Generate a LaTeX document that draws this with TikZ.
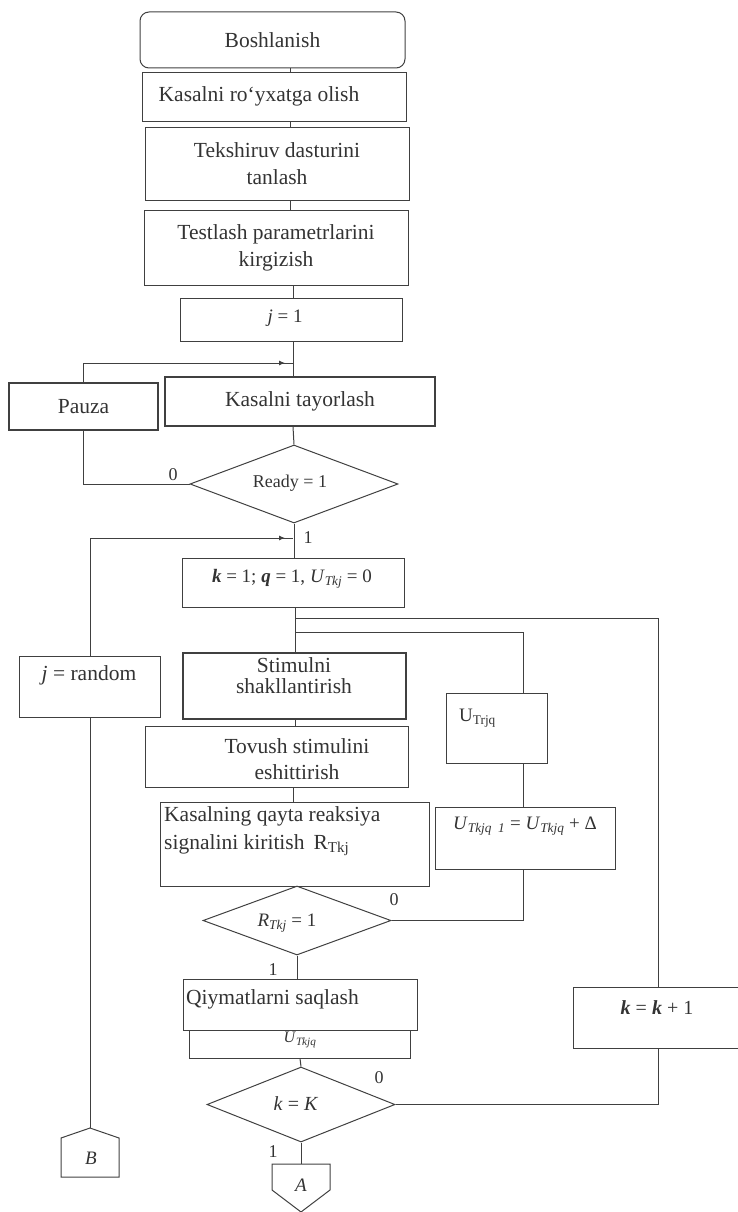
\documentclass[tikz,border=0pt]{standalone}
\usepackage{fontspec}
\setmainfont{Liberation Serif}
\usetikzlibrary{shapes.geometric,decorations.markings,arrows.meta,calc}
\begin{document}
\begin{tikzpicture}[x=1pt,y=-1pt,
  ink/.style={draw=black!75, line width=1pt},
  box/.style={ink, rectangle, inner sep=0pt, align=center, text=black!80,
    font=\fontsize{21.5}{27}\selectfont},
  dia/.style={ink, diamond, inner sep=0pt, text=black!80,
    font=\fontsize{19}{22}\selectfont},
  txt/.style={inner sep=0pt, text=black!80, font=\fontsize{21.5}{27}\selectfont},
  mtxt/.style={inner sep=0pt, text=black!80, font=\fontsize{19}{22}\selectfont},
  lbl/.style={inner sep=0pt, text=black!80, font=\fontsize{18}{20}\selectfont},
  arr/.style={postaction={decorate}, decoration={markings,
    mark=at position -8pt with {\arrow{Latex[length=6pt,width=5pt]}}}}
]
\useasboundingbox (0,0) rectangle (738,1212);

% ---------- main column ----------
\node[box, rounded corners=9pt, minimum width=265pt, minimum height=56pt] (start) at (272.5,40) {Boshlanish};
\node[box, minimum width=264pt, minimum height=49pt] (reg) at (274,97.5) {};
\node[txt] (regt) at (259,96) {Kasalni ro‘yxatga olish};
\node[box, minimum width=264pt, minimum height=72pt] (tek) at (277,164) {Tekshiruv dasturini\\tanlash};
\node[box, minimum width=264pt, minimum height=75pt] (test) at (276,247.5) {Testlash parametrlarini\\kirgizish};
\node[box, minimum width=222pt, minimum height=43pt] (j1) at (291,319.5) {};
\node[mtxt] (j1t) at (285,318) {\textit{j} = 1};
\node[box, line width=1.3pt, minimum width=149pt, minimum height=47pt] (pauza) at (83.5,406.5) {Pauza};
\node[box, line width=1.3pt, minimum width=270pt, minimum height=49pt] (tay) at (300,401.5) {Kasalni tayorlash};
\node[dia, minimum width=208pt, minimum height=78pt] (ready) at (294,484) {};
\node[mtxt, font=\fontsize{18}{20}\selectfont] (readyt) at (290,483) {Ready = 1};
\node[box, minimum width=222pt, minimum height=49pt] (kq) at (293,582.5) {};
\node[mtxt] (kqt) at (292,579) {\textbf{\textit{k}} = 1; \textbf{\textit{q}} = 1, \textit{U}\textsubscript{\textit{Tkj}} = 0};
\node[box, minimum width=141pt, minimum height=61pt] (jr) at (90,686.5) {};
\node[txt] (jrt) at (89,675) {\textit{j} = random};
\node[box, line width=1.8pt, minimum width=223pt, minimum height=66pt] (stim) at (294.5,686) {};
\node[txt, align=center, font=\fontsize{21.5}{21}\selectfont] (stimt) at (294,676) {Stimulni\\shakllantirish};
\node[box, minimum width=263pt, minimum height=61pt] (tov) at (276.5,756.5) {};
\node[txt, align=center, font=\fontsize{21.5}{26}\selectfont] (tovt) at (297,759) {Tovush stimulini\\eshittirish};
\node[box, minimum width=269pt, minimum height=84pt] (kas) at (294.5,844) {};
\node[txt, align=left, anchor=west, font=\fontsize{21.5}{28}\selectfont] (kast) at (164,831) {Kasalning qayta reaksiya\\signalini kiritish\, R\textsubscript{Tkj}};
\node[dia, minimum width=188pt, minimum height=69pt] (rt) at (297,920.5) {};
\node[mtxt] (rtt) at (287,923) {\textit{R}\textsubscript{\textit{Tkj}} = 1};
\node[box, minimum width=234pt, minimum height=51pt] (qiy) at (300,1004.5) {};
\node[txt, anchor=west] (qiyt) at (186,999) {Qiymatlarni saqlash};
\node[box, minimum width=221pt, minimum height=28pt] (uq) at (299.5,1044) {};
\node[mtxt, font=\fontsize{16}{18}\selectfont] (uqt) at (300,1040) {\textit{U}\textsubscript{\textit{Tkjq}}};
\node[dia, minimum width=188pt, minimum height=75pt] (kK) at (301,1104.5) {};
\node[mtxt, font=\fontsize{20}{22}\selectfont] (kKt) at (296,1104) {\textit{k} = \textit{K}};

% ---------- right column ----------
\node[box, minimum width=101pt, minimum height=70pt] (utr) at (496.5,728) {};
\node[mtxt, anchor=west] (utrt) at (459,718) {U\textsubscript{Trjq}};
\node[box, minimum width=180pt, minimum height=62pt] (ud) at (525,838) {};
\node[mtxt] (udt) at (525,826) {\textit{U}\textsubscript{\textit{Tkjq}\ \ \textit{1}} = \textit{U}\textsubscript{\textit{Tkjq}} + Δ};
\node[inner sep=0pt, minimum width=164pt, minimum height=60pt] (kk1) at (656,1018) {};
\draw[ink] (kk1.north east) -- (kk1.north west) -- (kk1.south west) -- (kk1.south east);
\node[mtxt, font=\fontsize{20}{22}\selectfont] (kk1t) at (657,1008) {\textbf{\textit{k}} = \textbf{\textit{k}} + 1};

% ---------- off-page connectors ----------
\coordinate (Btop) at (90,1128);
\draw[ink] (Btop) -- (119,1138) -- (119,1177) -- (61,1177) -- (61,1138) -- cycle;
\node[mtxt, font=\fontsize{19}{22}\selectfont] (Bt) at (91,1158) {\textit{B}};
\coordinate (Atop) at (301,1164);
\draw[ink] (272,1164) -- (330,1164) -- (330,1190) -- (301,1212) -- (272,1190) -- cycle;
\node[mtxt, font=\fontsize{19}{22}\selectfont] (At) at (301,1185) {\textit{A}};

% ---------- guide coordinates ----------
\coordinate (s290) at (290,0);
\coordinate (s293) at (293,0);
\coordinate (s295) at (295,0);
\coordinate (s300) at (300,0);
\coordinate (xU) at (523,0);
\coordinate (xK) at (658,0);
\coordinate (jA) at (293,363);
\coordinate (jB) at (293,538);
\coordinate (jC) at (295,618);
\coordinate (jD) at (295,632);

% ---------- connectors ----------
\draw[ink] (start.south -| s290) -- (reg.north -| s290);
\draw[ink] (reg.south -| s290) -- (tek.north -| s290);
\draw[ink] (tek.south -| s290) -- (test.north -| s290);
\draw[ink] (test.south -| s293) -- (j1.north -| s293);
\draw[ink] (j1.south -| s293) -- (tay.north -| s293);
\draw[ink] (tay.south -| s293) -- (ready.north);
\draw[ink] (ready.south) -- (kq.north -| ready.south);
\draw[ink] (ready.west) -- (ready.west -| pauza.south) -- (pauza.south);
\draw[ink, arr] (pauza.north) -- (pauza.north |- jA) -- (jA);
\draw[ink, arr] (jr.north) -- (jr.north |- jB) -- (jB);
\draw[ink] (jr.south) -- (Btop);
\draw[ink] (kq.south -| s295) -- (stim.north -| s295);
\draw[ink] (jC) -- (jC -| xK) -- (kk1.north -| xK);
\draw[ink] (jD) -- (jD -| xU) -- (utr.north -| xU);
\draw[ink] (stim.south -| s295) -- (tov.north -| s295);
\draw[ink] (tov.south -| s293) -- (kas.north -| s293);
\draw[ink] (utr.south -| xU) -- (ud.north -| xU);
\draw[ink] (ud.south -| xU) -- (xU |- rt.east) -- (rt.east);
\draw[ink] (rt.south) -- (qiy.north -| rt.south);
\draw[ink] (uq.south -| s300) -- (kK.north);
\draw[ink] (kK.east) -- (xK |- kK.east) -- (kk1.south -| xK);
\draw[ink] (kK.south) -- (Atop);

% ---------- branch labels ----------
\node[lbl] (l1) at (173,475) {0};
\node[lbl] (l2) at (308,538) {1};
\node[lbl] (l3) at (394,900) {0};
\node[lbl] (l4) at (273,970) {1};
\node[lbl] (l5) at (379,1078) {0};
\node[lbl] (l6) at (273,1152) {1};
\end{tikzpicture}
\end{document}
